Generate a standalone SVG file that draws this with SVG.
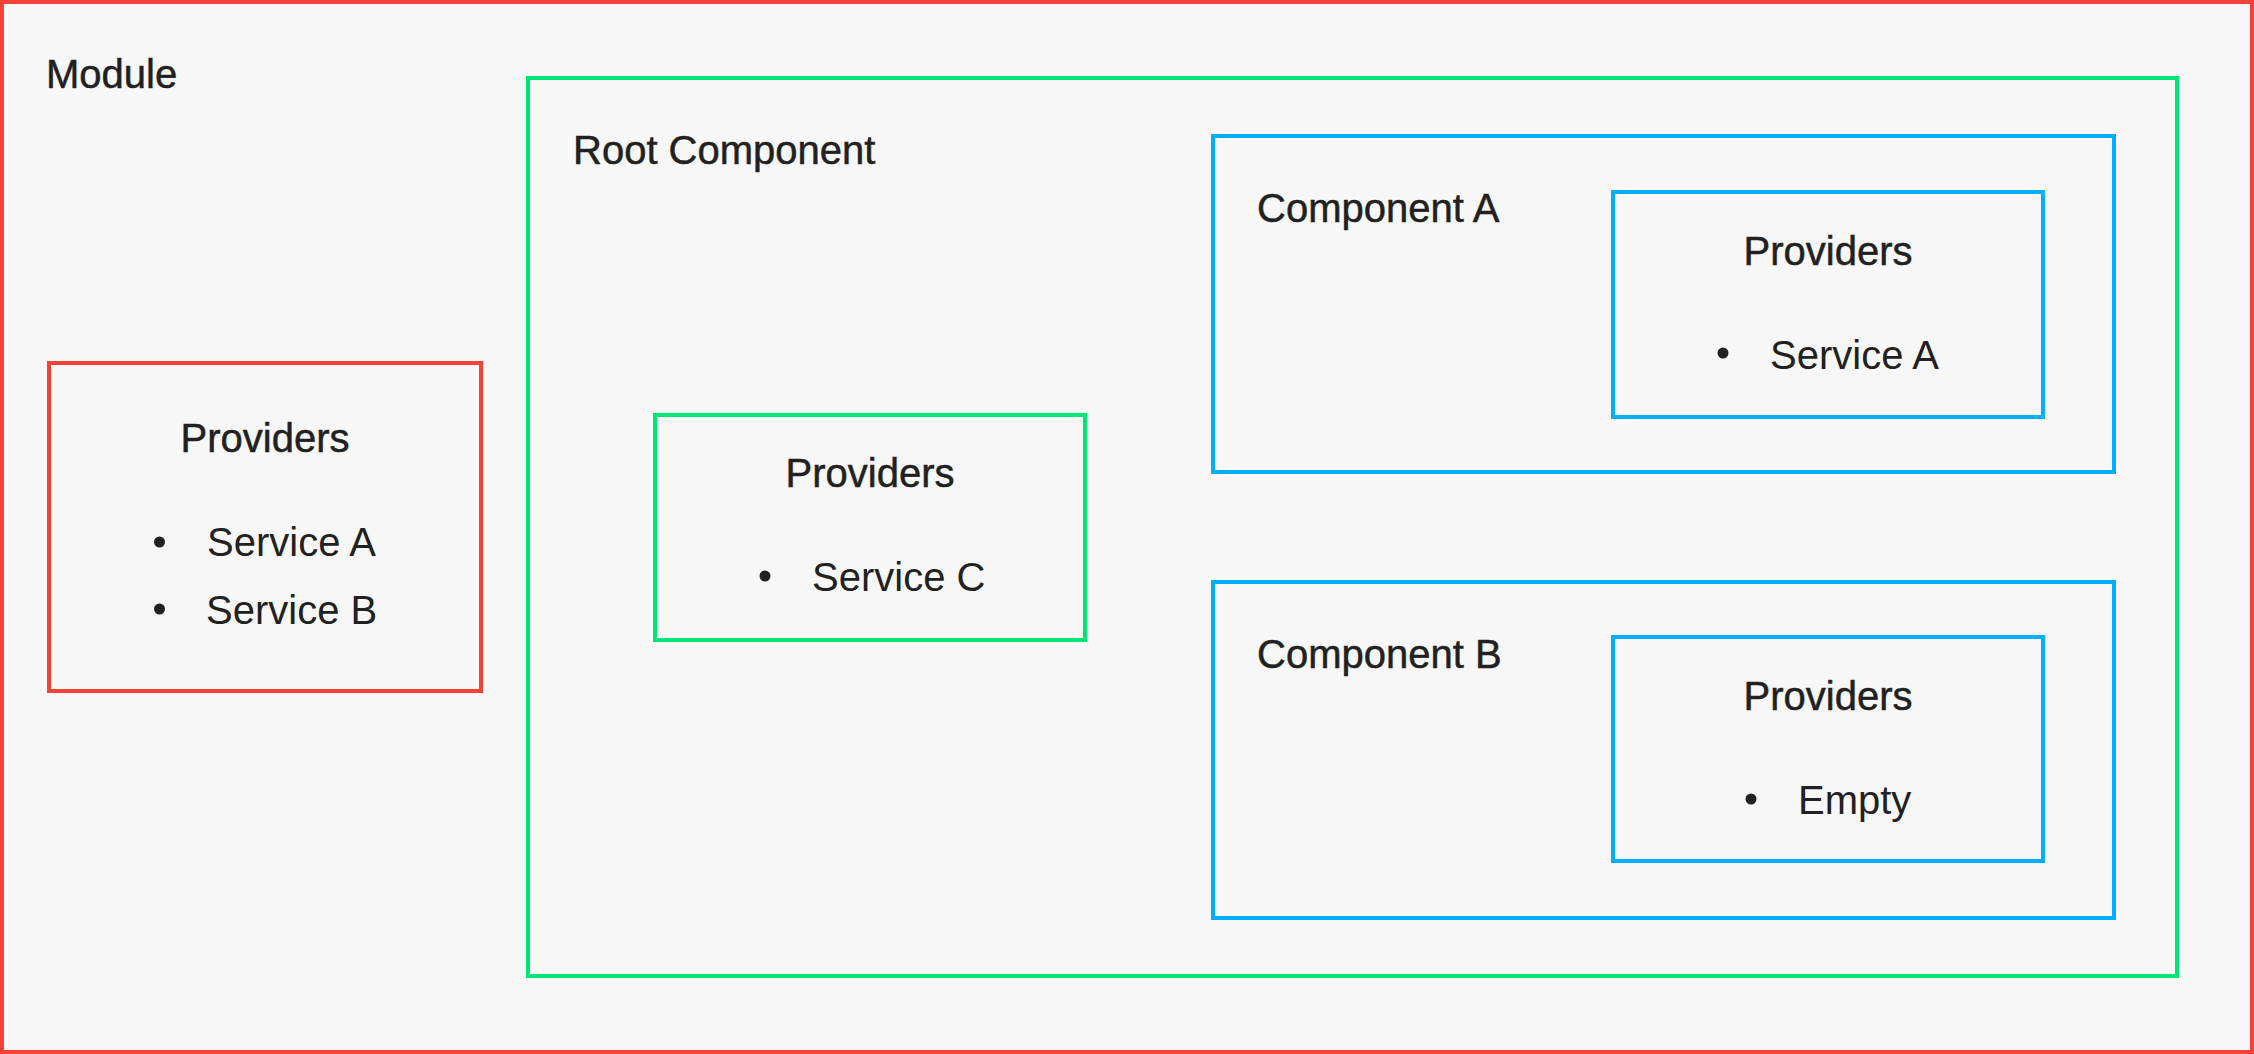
<svg xmlns="http://www.w3.org/2000/svg" width="2254" height="1054" viewBox="0 0 2254 1054">
  <style>
    .bg { fill: #F7F7F7; }
    .red { fill: none; stroke: #F44336; stroke-width: 4; }
    .green { fill: none; stroke: #00E676; stroke-width: 4; }
    .blue { fill: none; stroke: #00B0FF; stroke-width: 4; }
    text { font-family: "Liberation Sans", Arial, sans-serif; font-size: 40px; fill: #212121; }
    .head { stroke: #212121; stroke-width: 0.5; }
    .mid { text-anchor: middle; }
    .dot { fill: #212121; }
  </style>
  <rect class="bg" x="0" y="0" width="2254" height="1054"/>
  <g id="module">
    <rect class="red" x="2" y="2" width="2250" height="1050"/>
    <text class="head" x="46" y="88">Module</text>
  </g>
  <g id="module-providers">
    <rect class="red" x="49" y="363" width="432" height="328"/>
    <text class="head mid" x="265" y="452">Providers</text>
    <circle class="dot" cx="159.5" cy="542" r="5.5"/>
    <text x="207" y="556">Service A</text>
    <circle class="dot" cx="159.5" cy="609" r="5.5"/>
    <text x="206" y="624">Service B</text>
  </g>
  <g id="root-component">
    <rect class="green" x="528" y="78" width="1649" height="898"/>
    <text class="head" x="573" y="164">Root Component</text>
  </g>
  <g id="root-providers">
    <rect class="green" x="655" y="415" width="430" height="225"/>
    <text class="head mid" x="870" y="487">Providers</text>
    <circle class="dot" cx="765" cy="576" r="5.5"/>
    <text x="812" y="591">Service C</text>
  </g>
  <g id="component-a">
    <rect class="blue" x="1213" y="136" width="901" height="336"/>
    <text class="head" x="1257" y="222">Component A</text>
  </g>
  <g id="component-a-providers">
    <rect class="blue" x="1613" y="192" width="430" height="225"/>
    <text class="head mid" x="1828" y="265">Providers</text>
    <circle class="dot" cx="1723" cy="353" r="5.5"/>
    <text x="1770" y="369">Service A</text>
  </g>
  <g id="component-b">
    <rect class="blue" x="1213" y="582" width="901" height="336"/>
    <text class="head" x="1257" y="668">Component B</text>
  </g>
  <g id="component-b-providers">
    <rect class="blue" x="1613" y="637" width="430" height="224"/>
    <text class="head mid" x="1828" y="710">Providers</text>
    <circle class="dot" cx="1751" cy="799" r="5.5"/>
    <text x="1798" y="814">Empty</text>
  </g>
  <g id="connectors"/>
</svg>
